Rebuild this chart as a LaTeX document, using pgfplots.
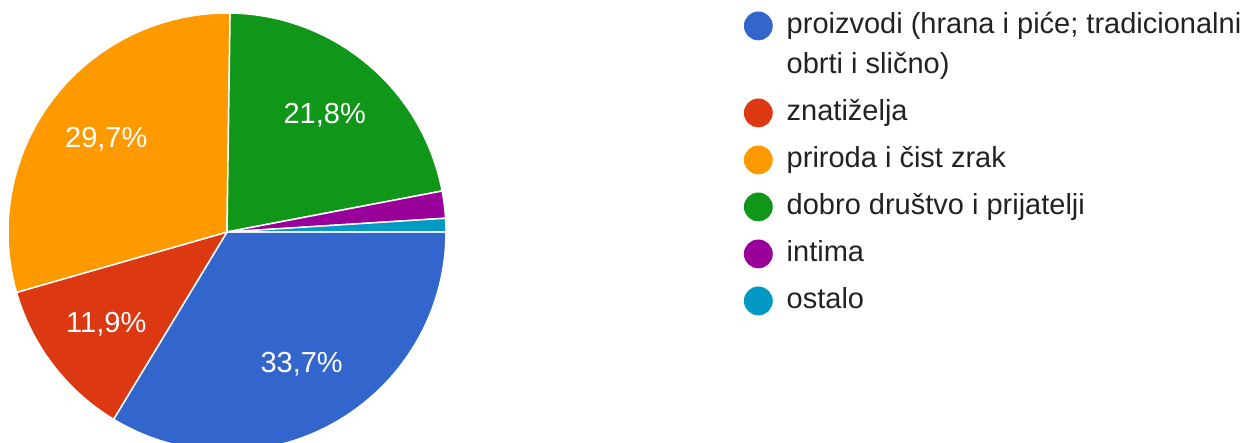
\documentclass[border=0pt]{standalone}
\usepackage{pgfplots}
\pgfplotsset{compat=1.18}
\usepackage{pgfplotstable}
\usepackage{fontspec}
\setmainfont{Liberation Sans}
\definecolor{c0}{HTML}{3366CC}
\definecolor{c1}{HTML}{DC3912}
\definecolor{c2}{HTML}{FF9900}
\definecolor{c3}{HTML}{109618}
\definecolor{c4}{HTML}{990099}
\definecolor{c5}{HTML}{0099C6}
\definecolor{legtext}{HTML}{222222}
\newcommand\labfont{\fontsize{14.5}{17}\selectfont}
\newcommand\legfont{\fontsize{14.5}{20}\selectfont}

% shares of the answers, in per cent
\pgfplotstableread{
idx value
0 33.7
1 11.9
2 29.7
3 21.8
4 2.0
5 1.0
}\piedata

\begin{document}
\begin{tikzpicture}
\xdef\total{0}
\foreach \i in {0,...,5}{
  \pgfplotstablegetelem{\i}{value}\of\piedata
  \pgfmathsetmacro\tmpsum{\total+\pgfplotsretval}
  \xdef\total{\tmpsum}
}
\xdef\cum{0}
\foreach \i in {0,...,5}{
  \pgfplotstablegetelem{\i}{value}\of\piedata
  \let\curval\pgfplotsretval
  \pgfmathsetmacro\sa{-\cum/\total*360}
  \pgfmathsetmacro\nc{\cum+\curval}
  \pgfmathsetmacro\ea{-\nc/\total*360}
  \pgfmathsetmacro\ma{(\sa+\ea)/2}
  \expandafter\xdef\csname v\i\endcsname{\curval}
  \expandafter\xdef\csname s\i\endcsname{\sa}
  \expandafter\xdef\csname e\i\endcsname{\ea}
  \expandafter\xdef\csname m\i\endcsname{\ma}
  \xdef\cum{\nc}
}
\path[use as bounding box] (0,0) rectangle (629.5pt,221.5pt);
\begin{axis}[
  at={(0,0)}, anchor=origin,
  x=0.5pt, y=0.5pt,
  xmin=0, xmax=1259, ymin=0, ymax=443,
  hide axis, clip=true,
  legend image code/.code={\fill[#1] (0pt,3.8pt) circle (7pt);},
  legend cell align=left,
  legend style={at={(0.5909,0.9875)}, anchor=north west, draw=none, fill=none,
    inner sep=0pt, outer sep=0pt, row sep=3.5pt, column sep=7pt,
    font=\legfont, text=legtext,
    nodes={inner sep=0pt, anchor=base west, text depth=, text height=}},
]
\pgfplotsinvokeforeach{0,...,5}{
  \edef\tmp{\noexpand\fill[c#1, draw=white, line width=0.75pt] (axis cs:227,211) -- ++(\csname s#1\endcsname:109.5pt) arc[start angle=\csname s#1\endcsname, end angle=\csname e#1\endcsname, radius=109.5pt] -- cycle;}\tmp
}
\pgfplotsinvokeforeach{0,...,3}{
  \edef\tmp{\noexpand\path (axis cs:227,211) ++(\csname m#1\endcsname:76pt) node[text=white, font=\noexpand\labfont, inner sep=0pt] {\noexpand\pgfmathprintnumber[fixed,fixed zerofill,precision=1,use comma,assume math mode=true]{\csname v#1\endcsname}\noexpand\%};}\tmp
}
\addlegendimage{c0}
\addlegendentry{\begin{tabular}[t]{@{}l@{}}proizvodi (hrana i piće; tradicionalni\\obrti i slično)\end{tabular}}
\addlegendimage{c1}
\addlegendentry{znatiželja\strut}
\addlegendimage{c2}
\addlegendentry{priroda i čist zrak\strut}
\addlegendimage{c3}
\addlegendentry{dobro društvo i prijatelji\strut}
\addlegendimage{c4}
\addlegendentry{intima\strut}
\addlegendimage{c5}
\addlegendentry{ostalo\strut}
\end{axis}
\end{tikzpicture}
\end{document}
